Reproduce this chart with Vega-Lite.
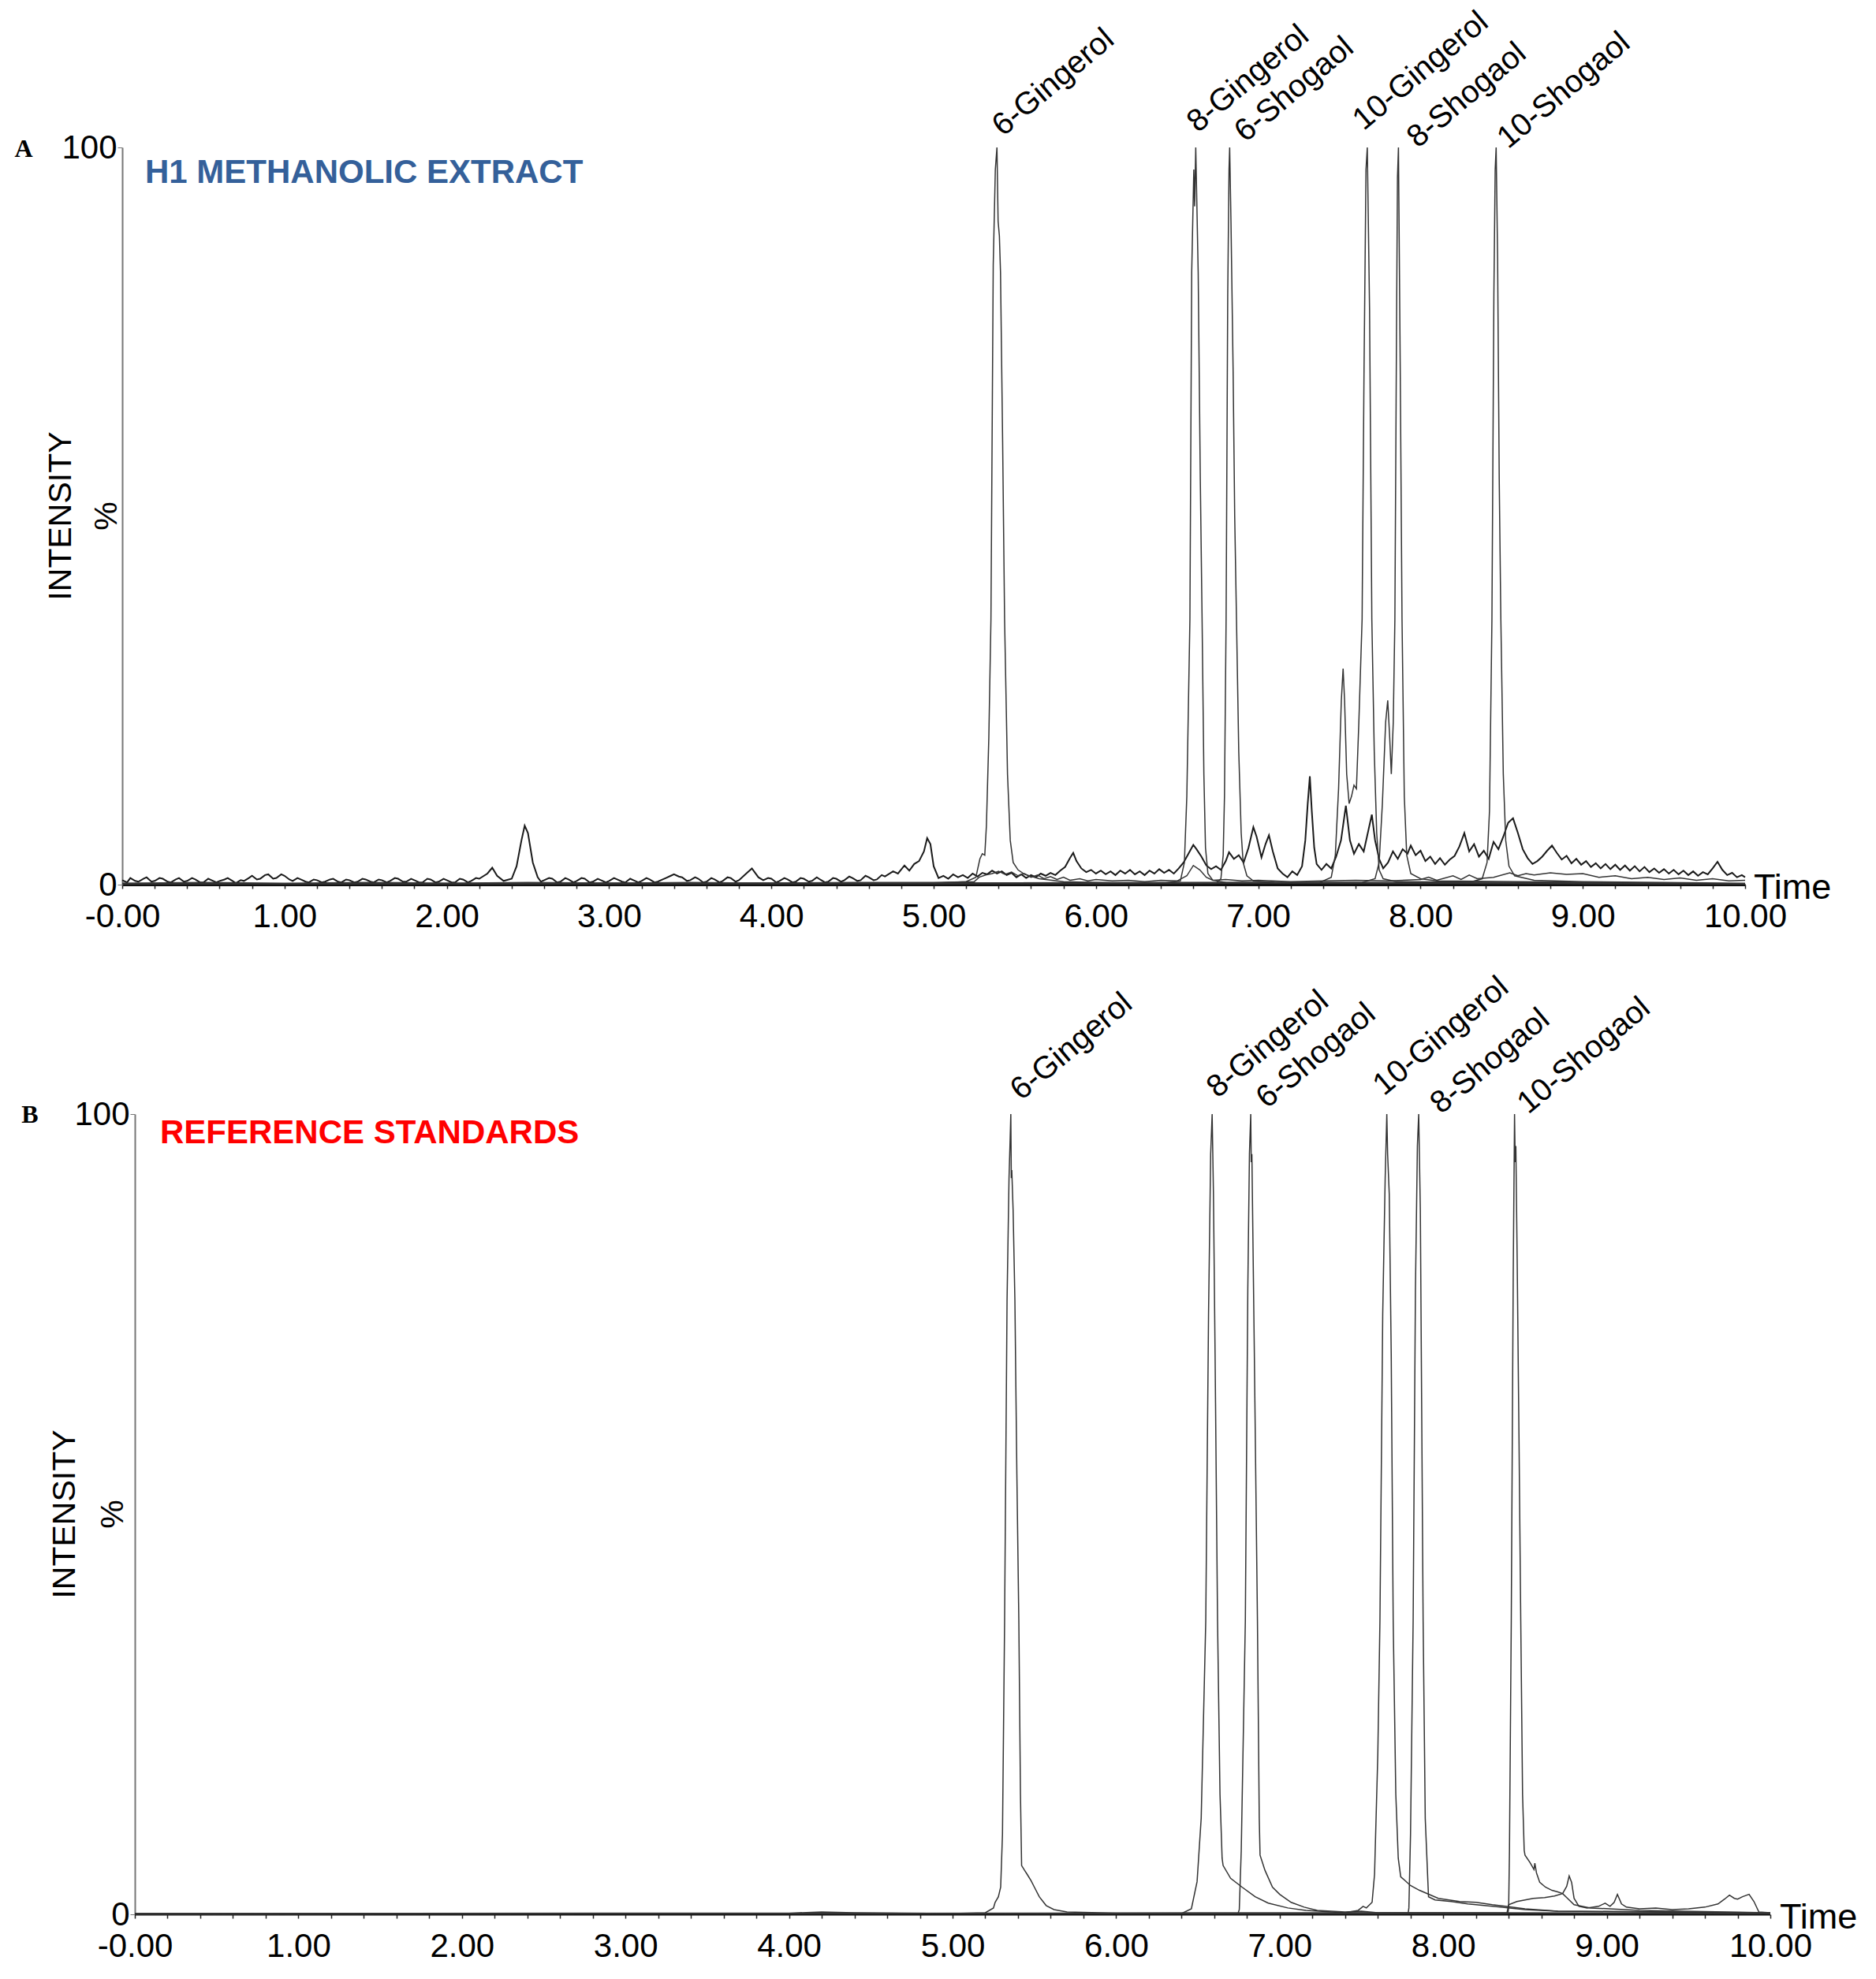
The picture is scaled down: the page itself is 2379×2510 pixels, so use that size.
{
  "$schema": "https://vega.github.io/schema/vega-lite/v6.json",
  "background": "white",
  "padding": {"left": 18, "top": 7, "right": 10, "bottom": 10},
  "spacing": 48,
  "config": {"view": {"stroke": null}, "font": "Liberation Sans", "axis": {"grid": false}},
  "datasets": {
    "An": [
      {"s":"n1","t":0,"v":0.6},{"s":"n1","t":0.03,"v":0.3},{"s":"n1","t":0.05,"v":0.9},{"s":"n1","t":0.08,"v":0.5},{"s":"n1","t":0.1,"v":0.4},{"s":"n1","t":0.13,"v":0.8},{"s":"n1","t":0.15,"v":1.0},{"s":"n1","t":0.18,"v":0.4},{"s":"n1","t":0.2,"v":0.5},{"s":"n1","t":0.23,"v":0.9},{"s":"n1","t":0.25,"v":0.8},{"s":"n1","t":0.28,"v":0.4},{"s":"n1","t":0.3,"v":0.3},{"s":"n1","t":0.33,"v":0.7},{"s":"n1","t":0.35,"v":0.9},{"s":"n1","t":0.38,"v":0.4},{"s":"n1","t":0.4,"v":0.5},{"s":"n1","t":0.43,"v":0.9},{"s":"n1","t":0.45,"v":0.7},{"s":"n1","t":0.48,"v":0.3},{"s":"n1","t":0.5,"v":0.3},{"s":"n1","t":0.53,"v":0.8},{"s":"n1","t":0.55,"v":0.6},{"s":"n1","t":0.58,"v":0.3},{"s":"n1","t":0.6,"v":0.5},{"s":"n1","t":0.63,"v":0.7},{"s":"n1","t":0.65,"v":0.9},{"s":"n1","t":0.68,"v":0.5},{"s":"n1","t":0.7,"v":0.2},{"s":"n1","t":0.73,"v":0.6},{"s":"n1","t":0.75,"v":0.5},{"s":"n1","t":0.78,"v":0.9},{"s":"n1","t":0.8,"v":1.2},{"s":"n1","t":0.83,"v":0.7},{"s":"n1","t":0.85,"v":0.8},{"s":"n1","t":0.88,"v":1.3},{"s":"n1","t":0.9,"v":1.4},{"s":"n1","t":0.93,"v":0.8},{"s":"n1","t":0.95,"v":0.9},{"s":"n1","t":0.98,"v":1.4},{"s":"n1","t":1.0,"v":1.2},{"s":"n1","t":1.03,"v":0.7},{"s":"n1","t":1.05,"v":0.5},{"s":"n1","t":1.08,"v":0.9},{"s":"n1","t":1.1,"v":0.7},{"s":"n1","t":1.13,"v":0.4},{"s":"n1","t":1.15,"v":0.3},{"s":"n1","t":1.18,"v":0.7},{"s":"n1","t":1.2,"v":0.6},{"s":"n1","t":1.23,"v":0.3},{"s":"n1","t":1.25,"v":0.4},{"s":"n1","t":1.28,"v":0.7},{"s":"n1","t":1.3,"v":0.8},{"s":"n1","t":1.33,"v":0.4},{"s":"n1","t":1.35,"v":0.3},{"s":"n1","t":1.38,"v":0.7},{"s":"n1","t":1.4,"v":0.6},{"s":"n1","t":1.43,"v":0.3},{"s":"n1","t":1.45,"v":0.4},{"s":"n1","t":1.48,"v":0.8},{"s":"n1","t":1.5,"v":0.7},{"s":"n1","t":1.53,"v":0.4},{"s":"n1","t":1.55,"v":0.3},{"s":"n1","t":1.58,"v":0.7},{"s":"n1","t":1.6,"v":0.6},{"s":"n1","t":1.63,"v":0.3},{"s":"n1","t":1.65,"v":0.5},{"s":"n1","t":1.68,"v":0.9},{"s":"n1","t":1.7,"v":0.8},{"s":"n1","t":1.73,"v":0.4},{"s":"n1","t":1.75,"v":0.4},{"s":"n1","t":1.78,"v":0.8},{"s":"n1","t":1.8,"v":0.6},{"s":"n1","t":1.83,"v":0.3},{"s":"n1","t":1.85,"v":0.3},{"s":"n1","t":1.88,"v":0.8},{"s":"n1","t":1.9,"v":0.7},{"s":"n1","t":1.93,"v":0.3},{"s":"n1","t":1.95,"v":0.4},{"s":"n1","t":1.98,"v":0.8},{"s":"n1","t":2.0,"v":0.6},{"s":"n1","t":2.03,"v":0.3},{"s":"n1","t":2.05,"v":0.3},{"s":"n1","t":2.08,"v":0.8},{"s":"n1","t":2.1,"v":0.7},{"s":"n1","t":2.13,"v":0.3},{"s":"n1","t":2.15,"v":0.5},{"s":"n1","t":2.18,"v":0.9},{"s":"n1","t":2.2,"v":0.8},{"s":"n1","t":2.25,"v":1.5},{"s":"n1","t":2.28,"v":2.3},{"s":"n1","t":2.31,"v":1.2},{"s":"n1","t":2.35,"v":0.5},{"s":"n1","t":2.4,"v":0.8},{"s":"n1","t":2.43,"v":2.5},{"s":"n1","t":2.46,"v":6},{"s":"n1","t":2.48,"v":8},{"s":"n1","t":2.5,"v":7},{"s":"n1","t":2.53,"v":3},{"s":"n1","t":2.56,"v":1.0},{"s":"n1","t":2.58,"v":0.4},{"s":"n1","t":2.6,"v":0.6},{"s":"n1","t":2.63,"v":0.9},{"s":"n1","t":2.65,"v":0.8},{"s":"n1","t":2.68,"v":0.3},{"s":"n1","t":2.7,"v":0.4},{"s":"n1","t":2.73,"v":0.9},{"s":"n1","t":2.75,"v":0.7},{"s":"n1","t":2.78,"v":0.3},{"s":"n1","t":2.8,"v":0.5},{"s":"n1","t":2.83,"v":0.9},{"s":"n1","t":2.85,"v":0.8},{"s":"n1","t":2.88,"v":0.3},{"s":"n1","t":2.9,"v":0.4},{"s":"n1","t":2.93,"v":0.8},{"s":"n1","t":2.95,"v":0.6},{"s":"n1","t":2.98,"v":0.3},{"s":"n1","t":3.0,"v":0.5},{"s":"n1","t":3.03,"v":0.9},{"s":"n1","t":3.05,"v":0.7},{"s":"n1","t":3.08,"v":0.4},{"s":"n1","t":3.1,"v":0.3},{"s":"n1","t":3.13,"v":0.8},{"s":"n1","t":3.15,"v":0.6},{"s":"n1","t":3.18,"v":0.3},{"s":"n1","t":3.2,"v":0.5},{"s":"n1","t":3.23,"v":0.9},{"s":"n1","t":3.25,"v":0.7},{"s":"n1","t":3.28,"v":0.3},{"s":"n1","t":3.3,"v":0.4},{"s":"n1","t":3.33,"v":0.7},{"s":"n1","t":3.35,"v":0.9},{"s":"n1","t":3.38,"v":1.2},{"s":"n1","t":3.4,"v":1.4},{"s":"n1","t":3.43,"v":1.1},{"s":"n1","t":3.45,"v":1.0},{"s":"n1","t":3.48,"v":0.5},{"s":"n1","t":3.5,"v":0.6},{"s":"n1","t":3.53,"v":1.0},{"s":"n1","t":3.55,"v":0.8},{"s":"n1","t":3.58,"v":0.3},{"s":"n1","t":3.6,"v":0.4},{"s":"n1","t":3.63,"v":0.9},{"s":"n1","t":3.65,"v":0.7},{"s":"n1","t":3.68,"v":0.3},{"s":"n1","t":3.7,"v":0.5},{"s":"n1","t":3.73,"v":1.0},{"s":"n1","t":3.75,"v":0.9},{"s":"n1","t":3.78,"v":0.4},{"s":"n1","t":3.8,"v":0.6},{"s":"n1","t":3.85,"v":1.6},{"s":"n1","t":3.88,"v":2.2},{"s":"n1","t":3.92,"v":1.0},{"s":"n1","t":3.95,"v":0.6},{"s":"n1","t":3.98,"v":0.9},{"s":"n1","t":4.0,"v":0.8},{"s":"n1","t":4.03,"v":0.3},{"s":"n1","t":4.05,"v":0.5},{"s":"n1","t":4.08,"v":0.9},{"s":"n1","t":4.1,"v":0.7},{"s":"n1","t":4.13,"v":0.3},{"s":"n1","t":4.15,"v":0.4},{"s":"n1","t":4.18,"v":0.9},{"s":"n1","t":4.2,"v":0.8},{"s":"n1","t":4.23,"v":0.4},{"s":"n1","t":4.25,"v":0.5},{"s":"n1","t":4.28,"v":1.0},{"s":"n1","t":4.3,"v":0.7},{"s":"n1","t":4.33,"v":0.3},{"s":"n1","t":4.35,"v":0.4},{"s":"n1","t":4.38,"v":0.9},{"s":"n1","t":4.4,"v":0.8},{"s":"n1","t":4.43,"v":0.4},{"s":"n1","t":4.45,"v":0.6},{"s":"n1","t":4.48,"v":1.1},{"s":"n1","t":4.5,"v":0.9},{"s":"n1","t":4.53,"v":0.5},{"s":"n1","t":4.55,"v":0.6},{"s":"n1","t":4.58,"v":1.2},{"s":"n1","t":4.6,"v":1.0},{"s":"n1","t":4.63,"v":0.6},{"s":"n1","t":4.65,"v":0.7},{"s":"n1","t":4.68,"v":1.3},{"s":"n1","t":4.7,"v":1.1},{"s":"n1","t":4.75,"v":1.8},{"s":"n1","t":4.78,"v":1.5},{"s":"n1","t":4.82,"v":2.6},{"s":"n1","t":4.85,"v":1.9},{"s":"n1","t":4.88,"v":2.8},{"s":"n1","t":4.91,"v":3.2},{"s":"n1","t":4.94,"v":4.5},{"s":"n1","t":4.96,"v":6.3},{"s":"n1","t":4.98,"v":5.5},{"s":"n1","t":5.0,"v":2.5},{"s":"n1","t":5.03,"v":0.9},{"s":"n1","t":5.06,"v":1.2},{"s":"n1","t":5.09,"v":0.8},{"s":"n1","t":5.12,"v":1.4},{"s":"n1","t":5.15,"v":1.0},{"s":"n1","t":5.18,"v":1.3},{"s":"n1","t":5.21,"v":0.9},{"s":"n1","t":5.24,"v":1.5},{"s":"n1","t":5.27,"v":1.1},{"s":"n1","t":5.3,"v":1.6},{"s":"n1","t":5.33,"v":1.4},{"s":"n1","t":5.36,"v":1.9},{"s":"n1","t":5.39,"v":1.5},{"s":"n1","t":5.42,"v":1.8},{"s":"n1","t":5.45,"v":1.3},{"s":"n1","t":5.48,"v":1.6},{"s":"n1","t":5.51,"v":1.0},{"s":"n1","t":5.54,"v":1.4},{"s":"n1","t":5.57,"v":0.9},{"s":"n1","t":5.6,"v":1.3},{"s":"n1","t":5.63,"v":1.0},{"s":"n1","t":5.66,"v":1.5},{"s":"n1","t":5.69,"v":1.2},{"s":"n1","t":5.72,"v":1.6},{"s":"n1","t":5.75,"v":1.3},{"s":"n1","t":5.78,"v":1.9},{"s":"n1","t":5.81,"v":2.4},{"s":"n1","t":5.84,"v":3.6},{"s":"n1","t":5.86,"v":4.3},{"s":"n1","t":5.88,"v":3.2},{"s":"n1","t":5.91,"v":2.2},{"s":"n1","t":5.94,"v":1.7},{"s":"n1","t":5.97,"v":2.0},{"s":"n1","t":6.0,"v":1.5},{"s":"n1","t":6.03,"v":1.9},{"s":"n1","t":6.06,"v":1.4},{"s":"n1","t":6.09,"v":1.8},{"s":"n1","t":6.12,"v":1.3},{"s":"n1","t":6.15,"v":1.9},{"s":"n1","t":6.18,"v":1.5},{"s":"n1","t":6.21,"v":2.0},{"s":"n1","t":6.24,"v":1.4},{"s":"n1","t":6.27,"v":1.8},{"s":"n1","t":6.3,"v":1.3},{"s":"n1","t":6.33,"v":1.9},{"s":"n1","t":6.36,"v":1.5},{"s":"n1","t":6.39,"v":2.1},{"s":"n1","t":6.42,"v":1.6},{"s":"n1","t":6.45,"v":2.0},{"s":"n1","t":6.48,"v":1.5},{"s":"n1","t":6.51,"v":2.2},{"s":"n1","t":6.54,"v":3.0},{"s":"n1","t":6.57,"v":4.2},{"s":"n1","t":6.6,"v":5.4},{"s":"n1","t":6.62,"v":4.8},{"s":"n1","t":6.65,"v":3.8},{"s":"n1","t":6.68,"v":2.6},{"s":"n1","t":6.71,"v":2.1},{"s":"n1","t":6.74,"v":2.5},{"s":"n1","t":6.77,"v":2.0},{"s":"n1","t":6.8,"v":3.2},{"s":"n1","t":6.82,"v":4.4},{"s":"n1","t":6.85,"v":3.5},{"s":"n1","t":6.88,"v":4.0},{"s":"n1","t":6.91,"v":3.0},{"s":"n1","t":6.94,"v":5.0},{"s":"n1","t":6.97,"v":7.8},{"s":"n1","t":6.99,"v":6.5},{"s":"n1","t":7.02,"v":3.7},{"s":"n1","t":7.045,"v":5.5},{"s":"n1","t":7.066,"v":6.7},{"s":"n1","t":7.09,"v":4.5},{"s":"n1","t":7.12,"v":2.2},{"s":"n1","t":7.15,"v":1.5},{"s":"n1","t":7.18,"v":1.0},{"s":"n1","t":7.21,"v":1.8},{"s":"n1","t":7.24,"v":1.3},{"s":"n1","t":7.27,"v":2.5},{"s":"n1","t":7.29,"v":6},{"s":"n1","t":7.305,"v":11},{"s":"n1","t":7.318,"v":14.7},{"s":"n1","t":7.33,"v":10},{"s":"n1","t":7.345,"v":5},{"s":"n1","t":7.36,"v":2.8},{"s":"n1","t":7.39,"v":2.0},{"s":"n1","t":7.42,"v":2.8},{"s":"n1","t":7.45,"v":2.2},{"s":"n1","t":7.48,"v":3.8},{"s":"n1","t":7.51,"v":6},{"s":"n1","t":7.54,"v":10.7},{"s":"n1","t":7.565,"v":6},{"s":"n1","t":7.59,"v":4.2},{"s":"n1","t":7.62,"v":5.5},{"s":"n1","t":7.65,"v":4.5},{"s":"n1","t":7.68,"v":7.5},{"s":"n1","t":7.7,"v":9.5},{"s":"n1","t":7.72,"v":6},{"s":"n1","t":7.745,"v":3.5},{"s":"n1","t":7.77,"v":2.2},{"s":"n1","t":7.8,"v":3.0},{"s":"n1","t":7.83,"v":4.5},{"s":"n1","t":7.86,"v":3.5},{"s":"n1","t":7.89,"v":4.8},{"s":"n1","t":7.92,"v":4.2},{"s":"n1","t":7.94,"v":5.3},{"s":"n1","t":7.97,"v":4.0},{"s":"n1","t":8.0,"v":4.6},{"s":"n1","t":8.03,"v":3.2},{"s":"n1","t":8.06,"v":3.8},{"s":"n1","t":8.09,"v":2.8},{"s":"n1","t":8.12,"v":3.6},{"s":"n1","t":8.15,"v":2.7},{"s":"n1","t":8.18,"v":3.4},{"s":"n1","t":8.21,"v":3.9},{"s":"n1","t":8.24,"v":5.2},{"s":"n1","t":8.27,"v":7.0},{"s":"n1","t":8.3,"v":4.5},{"s":"n1","t":8.33,"v":5.5},{"s":"n1","t":8.36,"v":3.8},{"s":"n1","t":8.39,"v":4.6},{"s":"n1","t":8.42,"v":3.5},{"s":"n1","t":8.45,"v":5.8},{"s":"n1","t":8.48,"v":4.8},{"s":"n1","t":8.51,"v":6.5},{"s":"n1","t":8.54,"v":8.4},{"s":"n1","t":8.57,"v":9.0},{"s":"n1","t":8.6,"v":7.0},{"s":"n1","t":8.63,"v":4.8},{"s":"n1","t":8.66,"v":3.6},{"s":"n1","t":8.69,"v":2.8},{"s":"n1","t":8.72,"v":3.2},{"s":"n1","t":8.75,"v":3.8},{"s":"n1","t":8.78,"v":4.6},{"s":"n1","t":8.81,"v":5.3},{"s":"n1","t":8.84,"v":4.3},{"s":"n1","t":8.87,"v":3.4},{"s":"n1","t":8.9,"v":3.9},{"s":"n1","t":8.93,"v":2.9},{"s":"n1","t":8.96,"v":3.5},{"s":"n1","t":8.99,"v":2.7},{"s":"n1","t":9.02,"v":3.2},{"s":"n1","t":9.05,"v":2.4},{"s":"n1","t":9.08,"v":2.9},{"s":"n1","t":9.11,"v":2.2},{"s":"n1","t":9.14,"v":2.8},{"s":"n1","t":9.17,"v":2.1},{"s":"n1","t":9.2,"v":2.7},{"s":"n1","t":9.23,"v":2.0},{"s":"n1","t":9.26,"v":2.6},{"s":"n1","t":9.29,"v":1.9},{"s":"n1","t":9.32,"v":2.5},{"s":"n1","t":9.35,"v":1.8},{"s":"n1","t":9.38,"v":2.4},{"s":"n1","t":9.41,"v":1.7},{"s":"n1","t":9.44,"v":2.2},{"s":"n1","t":9.47,"v":1.6},{"s":"n1","t":9.5,"v":2.1},{"s":"n1","t":9.53,"v":1.5},{"s":"n1","t":9.56,"v":2.0},{"s":"n1","t":9.59,"v":1.4},{"s":"n1","t":9.62,"v":1.9},{"s":"n1","t":9.65,"v":1.3},{"s":"n1","t":9.68,"v":1.8},{"s":"n1","t":9.71,"v":1.2},{"s":"n1","t":9.74,"v":1.7},{"s":"n1","t":9.77,"v":1.4},{"s":"n1","t":9.8,"v":2.2},{"s":"n1","t":9.83,"v":3.1},{"s":"n1","t":9.86,"v":2.0},{"s":"n1","t":9.89,"v":1.3},{"s":"n1","t":9.92,"v":1.6},{"s":"n1","t":9.95,"v":1.0},{"s":"n1","t":9.98,"v":1.3},{"s":"n1","t":10.0,"v":1.0}
    ],
    "Ap": [
      {"s":"p1","t":0,"v":0.15},{"s":"p1","t":1,"v":0.1},{"s":"p1","t":2,"v":0.15},{"s":"p1","t":3,"v":0.1},{"s":"p1","t":4,"v":0.15},{"s":"p1","t":5,"v":0.2},{"s":"p1","t":5.2,"v":0.4},{"s":"p1","t":5.26,"v":1.0},{"s":"p1","t":5.285,"v":3.5},{"s":"p1","t":5.3,"v":4.2},{"s":"p1","t":5.315,"v":4.0},{"s":"p1","t":5.325,"v":8},{"s":"p1","t":5.34,"v":20},{"s":"p1","t":5.353,"v":36},{"s":"p1","t":5.367,"v":84},{"s":"p1","t":5.38,"v":97},{"s":"p1","t":5.39,"v":100},{"s":"p1","t":5.397,"v":90},{"s":"p1","t":5.405,"v":88},{"s":"p1","t":5.412,"v":83},{"s":"p1","t":5.425,"v":60},{"s":"p1","t":5.437,"v":36},{"s":"p1","t":5.455,"v":15},{"s":"p1","t":5.472,"v":6},{"s":"p1","t":5.49,"v":3},{"s":"p1","t":5.52,"v":2},{"s":"p1","t":5.56,"v":1.4},{"s":"p1","t":5.65,"v":0.8},{"s":"p1","t":5.8,"v":0.4},{"s":"p1","t":6.2,"v":0.2},{"s":"p1","t":10,"v":0.1},
      {"s":"p2","t":0,"v":0.1},{"s":"p2","t":6.4,"v":0.15},{"s":"p2","t":6.52,"v":0.5},{"s":"p2","t":6.545,"v":3},{"s":"p2","t":6.56,"v":12},{"s":"p2","t":6.579,"v":36},{"s":"p2","t":6.59,"v":83},{"s":"p2","t":6.603,"v":97},{"s":"p2","t":6.608,"v":92},{"s":"p2","t":6.615,"v":100},{"s":"p2","t":6.63,"v":83},{"s":"p2","t":6.643,"v":55},{"s":"p2","t":6.654,"v":36},{"s":"p2","t":6.665,"v":15},{"s":"p2","t":6.675,"v":5},{"s":"p2","t":6.69,"v":1.5},{"s":"p2","t":6.72,"v":0.6},{"s":"p2","t":6.8,"v":0.3},{"s":"p2","t":10,"v":0.1},
      {"s":"p3","t":0,"v":0.1},{"s":"p3","t":6.74,"v":0.15},{"s":"p3","t":6.77,"v":0.8},{"s":"p3","t":6.784,"v":4},{"s":"p3","t":6.792,"v":12},{"s":"p3","t":6.802,"v":36},{"s":"p3","t":6.812,"v":80},{"s":"p3","t":6.82,"v":97},{"s":"p3","t":6.824,"v":100},{"s":"p3","t":6.832,"v":90},{"s":"p3","t":6.845,"v":70},{"s":"p3","t":6.855,"v":50},{"s":"p3","t":6.866,"v":36},{"s":"p3","t":6.88,"v":18},{"s":"p3","t":6.895,"v":7},{"s":"p3","t":6.907,"v":3},{"s":"p3","t":6.93,"v":1.2},{"s":"p3","t":6.97,"v":0.5},{"s":"p3","t":7.1,"v":0.3},{"s":"p3","t":10,"v":0.1},
      {"s":"p4","t":0,"v":0.1},{"s":"p4","t":7.38,"v":0.3},{"s":"p4","t":7.45,"v":1.0},{"s":"p4","t":7.475,"v":4},{"s":"p4","t":7.495,"v":13},{"s":"p4","t":7.512,"v":25},{"s":"p4","t":7.523,"v":29.3},{"s":"p4","t":7.532,"v":25},{"s":"p4","t":7.545,"v":15},{"s":"p4","t":7.56,"v":11},{"s":"p4","t":7.575,"v":12},{"s":"p4","t":7.59,"v":13.5},{"s":"p4","t":7.605,"v":13},{"s":"p4","t":7.62,"v":22},{"s":"p4","t":7.64,"v":36},{"s":"p4","t":7.652,"v":70},{"s":"p4","t":7.664,"v":97},{"s":"p4","t":7.672,"v":100},{"s":"p4","t":7.686,"v":78},{"s":"p4","t":7.7,"v":36},{"s":"p4","t":7.715,"v":18},{"s":"p4","t":7.73,"v":7},{"s":"p4","t":7.745,"v":2},{"s":"p4","t":7.77,"v":0.8},{"s":"p4","t":7.85,"v":0.4},{"s":"p4","t":10,"v":0.1},
      {"s":"p5","t":0,"v":0.1},{"s":"p5","t":7.64,"v":0.3},{"s":"p5","t":7.72,"v":0.8},{"s":"p5","t":7.745,"v":3},{"s":"p5","t":7.765,"v":11},{"s":"p5","t":7.785,"v":22},{"s":"p5","t":7.798,"v":25},{"s":"p5","t":7.81,"v":20},{"s":"p5","t":7.82,"v":15},{"s":"p5","t":7.832,"v":22},{"s":"p5","t":7.842,"v":36},{"s":"p5","t":7.852,"v":75},{"s":"p5","t":7.858,"v":96},{"s":"p5","t":7.864,"v":100},{"s":"p5","t":7.875,"v":70},{"s":"p5","t":7.886,"v":36},{"s":"p5","t":7.9,"v":12},{"s":"p5","t":7.915,"v":4},{"s":"p5","t":7.94,"v":1.5},{"s":"p5","t":8.0,"v":0.8},{"s":"p5","t":8.1,"v":0.5},{"s":"p5","t":10,"v":0.1},
      {"s":"p6","t":0,"v":0.1},{"s":"p6","t":8.3,"v":0.3},{"s":"p6","t":8.38,"v":0.8},{"s":"p6","t":8.41,"v":3},{"s":"p6","t":8.425,"v":10},{"s":"p6","t":8.44,"v":36},{"s":"p6","t":8.452,"v":80},{"s":"p6","t":8.46,"v":97},{"s":"p6","t":8.466,"v":100},{"s":"p6","t":8.475,"v":85},{"s":"p6","t":8.485,"v":55},{"s":"p6","t":8.495,"v":36},{"s":"p6","t":8.51,"v":15},{"s":"p6","t":8.525,"v":6},{"s":"p6","t":8.545,"v":2.5},{"s":"p6","t":8.58,"v":1.2},{"s":"p6","t":8.7,"v":0.6},{"s":"p6","t":9,"v":0.4},{"s":"p6","t":10,"v":0.2},
      {"s":"n2","t":0,"v":0.2},{"s":"n2","t":0.5,"v":0.3},{"s":"n2","t":1,"v":0.2},{"s":"n2","t":1.5,"v":0.3},{"s":"n2","t":2,"v":0.2},{"s":"n2","t":2.5,"v":0.3},{"s":"n2","t":3,"v":0.2},{"s":"n2","t":3.5,"v":0.3},{"s":"n2","t":4,"v":0.2},{"s":"n2","t":4.5,"v":0.3},{"s":"n2","t":5.0,"v":0.3},{"s":"n2","t":5.25,"v":0.4},{"s":"n2","t":5.28,"v":1.0},{"s":"n2","t":5.32,"v":1.3},{"s":"n2","t":5.36,"v":1.5},{"s":"n2","t":5.4,"v":1.8},{"s":"n2","t":5.44,"v":1.4},{"s":"n2","t":5.48,"v":1.7},{"s":"n2","t":5.52,"v":1.2},{"s":"n2","t":5.56,"v":1.5},{"s":"n2","t":5.6,"v":1.0},{"s":"n2","t":5.64,"v":1.3},{"s":"n2","t":5.68,"v":0.8},{"s":"n2","t":5.72,"v":1.1},{"s":"n2","t":5.76,"v":0.7},{"s":"n2","t":5.8,"v":1.0},{"s":"n2","t":5.84,"v":0.6},{"s":"n2","t":5.9,"v":0.8},{"s":"n2","t":5.95,"v":0.5},{"s":"n2","t":6.0,"v":0.7},{"s":"n2","t":6.1,"v":0.5},{"s":"n2","t":6.2,"v":0.6},{"s":"n2","t":6.3,"v":0.4},{"s":"n2","t":6.4,"v":0.6},{"s":"n2","t":6.5,"v":0.5},{"s":"n2","t":6.56,"v":1.2},{"s":"n2","t":6.6,"v":2.6},{"s":"n2","t":6.64,"v":2.0},{"s":"n2","t":6.68,"v":1.0},{"s":"n2","t":6.72,"v":0.6},{"s":"n2","t":6.8,"v":0.7},{"s":"n2","t":6.9,"v":0.5},{"s":"n2","t":7.0,"v":0.6},{"s":"n2","t":7.2,"v":0.4},{"s":"n2","t":7.4,"v":0.5},{"s":"n2","t":7.6,"v":0.6},{"s":"n2","t":7.8,"v":0.5},{"s":"n2","t":8.0,"v":0.7},{"s":"n2","t":8.05,"v":1.0},{"s":"n2","t":8.1,"v":0.6},{"s":"n2","t":8.2,"v":1.2},{"s":"n2","t":8.25,"v":0.7},{"s":"n2","t":8.3,"v":1.3},{"s":"n2","t":8.35,"v":0.8},{"s":"n2","t":8.45,"v":1.0},{"s":"n2","t":8.55,"v":1.6},{"s":"n2","t":8.6,"v":1.2},{"s":"n2","t":8.65,"v":1.5},{"s":"n2","t":8.7,"v":1.3},{"s":"n2","t":8.8,"v":1.6},{"s":"n2","t":8.9,"v":1.4},{"s":"n2","t":9.0,"v":1.5},{"s":"n2","t":9.1,"v":1.0},{"s":"n2","t":9.2,"v":1.2},{"s":"n2","t":9.3,"v":0.8},{"s":"n2","t":9.4,"v":1.0},{"s":"n2","t":9.5,"v":0.7},{"s":"n2","t":9.6,"v":0.9},{"s":"n2","t":9.7,"v":0.6},{"s":"n2","t":9.8,"v":0.8},{"s":"n2","t":9.9,"v":0.5},{"s":"n2","t":10,"v":0.6}
    ],
    "Bp": [
      {"s":"q1","t":0,"v":0.05},{"s":"q1","t":4.0,"v":0.1},{"s":"q1","t":4.4,"v":0.15},{"s":"q1","t":5.0,"v":0.1},{"s":"q1","t":5.2,"v":0.2},{"s":"q1","t":5.25,"v":0.8},{"s":"q1","t":5.26,"v":1.5},{"s":"q1","t":5.28,"v":2.2},{"s":"q1","t":5.294,"v":3.4},{"s":"q1","t":5.305,"v":10},{"s":"q1","t":5.318,"v":36.7},{"s":"q1","t":5.333,"v":76.7},{"s":"q1","t":5.345,"v":92},{"s":"q1","t":5.352,"v":97},{"s":"q1","t":5.356,"v":100},{"s":"q1","t":5.359,"v":92},{"s":"q1","t":5.362,"v":93},{"s":"q1","t":5.37,"v":88},{"s":"q1","t":5.381,"v":76.7},{"s":"q1","t":5.393,"v":55},{"s":"q1","t":5.405,"v":36.7},{"s":"q1","t":5.415,"v":15},{"s":"q1","t":5.422,"v":6.1},{"s":"q1","t":5.44,"v":5.5},{"s":"q1","t":5.456,"v":5.0},{"s":"q1","t":5.48,"v":4.2},{"s":"q1","t":5.5,"v":3.4},{"s":"q1","t":5.53,"v":2.2},{"s":"q1","t":5.572,"v":1.1},{"s":"q1","t":5.62,"v":0.6},{"s":"q1","t":5.7,"v":0.3},{"s":"q1","t":6.0,"v":0.15},{"s":"q1","t":10,"v":0.1},
      {"s":"q2","t":0,"v":0.05},{"s":"q2","t":6.4,"v":0.1},{"s":"q2","t":6.46,"v":0.7},{"s":"q2","t":6.495,"v":4.1},{"s":"q2","t":6.52,"v":12},{"s":"q2","t":6.548,"v":36.7},{"s":"q2","t":6.565,"v":75},{"s":"q2","t":6.578,"v":95},{"s":"q2","t":6.587,"v":100},{"s":"q2","t":6.595,"v":90},{"s":"q2","t":6.605,"v":70},{"s":"q2","t":6.62,"v":36.7},{"s":"q2","t":6.635,"v":15},{"s":"q2","t":6.648,"v":7},{"s":"q2","t":6.654,"v":6.1},{"s":"q2","t":6.7,"v":4.5},{"s":"q2","t":6.77,"v":3.4},{"s":"q2","t":6.85,"v":2.2},{"s":"q2","t":6.93,"v":1.4},{"s":"q2","t":7.05,"v":0.8},{"s":"q2","t":7.16,"v":0.5},{"s":"q2","t":7.4,"v":0.2},{"s":"q2","t":10,"v":0.1},
      {"s":"q3","t":0,"v":0.05},{"s":"q3","t":6.745,"v":0.1},{"s":"q3","t":6.753,"v":0.6},{"s":"q3","t":6.765,"v":8},{"s":"q3","t":6.79,"v":36.7},{"s":"q3","t":6.805,"v":78},{"s":"q3","t":6.815,"v":95},{"s":"q3","t":6.823,"v":100},{"s":"q3","t":6.826,"v":94},{"s":"q3","t":6.83,"v":95},{"s":"q3","t":6.845,"v":70},{"s":"q3","t":6.864,"v":36.7},{"s":"q3","t":6.875,"v":12},{"s":"q3","t":6.88,"v":7.4},{"s":"q3","t":6.91,"v":5.5},{"s":"q3","t":6.956,"v":3.4},{"s":"q3","t":7.0,"v":2.5},{"s":"q3","t":7.07,"v":1.5},{"s":"q3","t":7.15,"v":0.9},{"s":"q3","t":7.23,"v":0.5},{"s":"q3","t":7.4,"v":0.3},{"s":"q3","t":7.5,"v":0.4},{"s":"q3","t":7.6,"v":0.2},{"s":"q3","t":10,"v":0.1},
      {"s":"q4","t":0,"v":0.05},{"s":"q4","t":7.4,"v":0.2},{"s":"q4","t":7.48,"v":0.5},{"s":"q4","t":7.51,"v":1.0},{"s":"q4","t":7.53,"v":0.8},{"s":"q4","t":7.55,"v":1.2},{"s":"q4","t":7.565,"v":1.5},{"s":"q4","t":7.58,"v":5},{"s":"q4","t":7.6,"v":20},{"s":"q4","t":7.613,"v":36.7},{"s":"q4","t":7.63,"v":75},{"s":"q4","t":7.645,"v":92},{"s":"q4","t":7.655,"v":100},{"s":"q4","t":7.66,"v":95},{"s":"q4","t":7.67,"v":90},{"s":"q4","t":7.682,"v":70},{"s":"q4","t":7.694,"v":36.7},{"s":"q4","t":7.71,"v":15},{"s":"q4","t":7.725,"v":7},{"s":"q4","t":7.74,"v":4.7},{"s":"q4","t":7.8,"v":3.6},{"s":"q4","t":7.855,"v":3.0},{"s":"q4","t":7.97,"v":2.0},{"s":"q4","t":8.1,"v":1.6},{"s":"q4","t":8.2,"v":1.5},{"s":"q4","t":8.3,"v":1.2},{"s":"q4","t":8.38,"v":1.0},{"s":"q4","t":8.5,"v":0.7},{"s":"q4","t":8.7,"v":0.4},{"s":"q4","t":10,"v":0.2},
      {"s":"q5","t":0,"v":0.05},{"s":"q5","t":7.785,"v":0.1},{"s":"q5","t":7.79,"v":0.8},{"s":"q5","t":7.8,"v":10},{"s":"q5","t":7.816,"v":36.7},{"s":"q5","t":7.83,"v":78},{"s":"q5","t":7.842,"v":96},{"s":"q5","t":7.85,"v":100},{"s":"q5","t":7.86,"v":88},{"s":"q5","t":7.877,"v":36.7},{"s":"q5","t":7.89,"v":12},{"s":"q5","t":7.91,"v":2.2},{"s":"q5","t":7.95,"v":1.8},{"s":"q5","t":8.05,"v":1.6},{"s":"q5","t":8.15,"v":1.3},{"s":"q5","t":8.25,"v":1.1},{"s":"q5","t":8.35,"v":0.9},{"s":"q5","t":8.5,"v":0.6},{"s":"q5","t":8.7,"v":0.4},{"s":"q5","t":10,"v":0.15},
      {"s":"q6","t":0,"v":0.05},{"s":"q6","t":8.395,"v":0.1},{"s":"q6","t":8.4,"v":0.8},{"s":"q6","t":8.405,"v":8},{"s":"q6","t":8.416,"v":36.7},{"s":"q6","t":8.428,"v":80},{"s":"q6","t":8.436,"v":100},{"s":"q6","t":8.44,"v":94},{"s":"q6","t":8.444,"v":96},{"s":"q6","t":8.452,"v":82},{"s":"q6","t":8.463,"v":60},{"s":"q6","t":8.474,"v":36.7},{"s":"q6","t":8.485,"v":15},{"s":"q6","t":8.495,"v":8},{"s":"q6","t":8.5,"v":7.4},{"s":"q6","t":8.53,"v":6.5},{"s":"q6","t":8.555,"v":5.6},{"s":"q6","t":8.56,"v":6.4},{"s":"q6","t":8.57,"v":5.2},{"s":"q6","t":8.59,"v":4.0},{"s":"q6","t":8.625,"v":3.4},{"s":"q6","t":8.665,"v":3.0},{"s":"q6","t":8.7,"v":2.8},{"s":"q6","t":8.73,"v":2.6},{"s":"q6","t":8.76,"v":2.0},{"s":"q6","t":8.8,"v":1.2},{"s":"q6","t":8.9,"v":0.8},{"s":"q6","t":9.2,"v":0.5},{"s":"q6","t":10,"v":0.2},
      {"s":"q7","t":0,"v":0.1},{"s":"q7","t":4.0,"v":0.15},{"s":"q7","t":4.2,"v":0.3},{"s":"q7","t":4.4,"v":0.2},{"s":"q7","t":5.0,"v":0.1},{"s":"q7","t":8.39,"v":0.2},{"s":"q7","t":8.4,"v":1.2},{"s":"q7","t":8.45,"v":1.6},{"s":"q7","t":8.5,"v":1.8},{"s":"q7","t":8.55,"v":2.0},{"s":"q7","t":8.62,"v":2.1},{"s":"q7","t":8.68,"v":2.3},{"s":"q7","t":8.73,"v":2.6},{"s":"q7","t":8.755,"v":3.5},{"s":"q7","t":8.77,"v":4.8},{"s":"q7","t":8.785,"v":4.0},{"s":"q7","t":8.8,"v":2.0},{"s":"q7","t":8.83,"v":1.0},{"s":"q7","t":8.88,"v":0.8},{"s":"q7","t":8.95,"v":1.0},{"s":"q7","t":8.99,"v":1.4},{"s":"q7","t":9.02,"v":1.0},{"s":"q7","t":9.045,"v":1.5},{"s":"q7","t":9.065,"v":2.5},{"s":"q7","t":9.09,"v":1.3},{"s":"q7","t":9.12,"v":0.9},{"s":"q7","t":9.2,"v":0.7},{"s":"q7","t":9.3,"v":0.8},{"s":"q7","t":9.4,"v":0.6},{"s":"q7","t":9.5,"v":0.7},{"s":"q7","t":9.6,"v":0.9},{"s":"q7","t":9.68,"v":1.3},{"s":"q7","t":9.72,"v":1.9},{"s":"q7","t":9.75,"v":2.4},{"s":"q7","t":9.78,"v":2.0},{"s":"q7","t":9.8,"v":1.9},{"s":"q7","t":9.83,"v":2.2},{"s":"q7","t":9.87,"v":2.5},{"s":"q7","t":9.9,"v":1.6},{"s":"q7","t":9.93,"v":0.3},{"s":"q7","t":10,"v":0.2}
    ],
    "labA": [
      {"name":"6-Gingerol","lt":5.427,"lv":101.4},{"name":"8-Gingerol","lt":6.628,"lv":101.9},{"name":"6-Shogaol","lt":6.92,"lv":100.6},{"name":"10-Gingerol","lt":7.65,"lv":102.2},{"name":"8-Shogaol","lt":7.983,"lv":99.8},{"name":"10-Shogaol","lt":8.54,"lv":99.7}
    ],
    "labB": [
      {"name":"6-Gingerol","lt":5.42,"lv":101.6},{"name":"8-Gingerol","lt":6.62,"lv":101.9},{"name":"6-Shogaol","lt":6.923,"lv":100.6},{"name":"10-Gingerol","lt":7.638,"lv":102.2},{"name":"8-Shogaol","lt":7.987,"lv":99.9},{"name":"10-Shogaol","lt":8.52,"lv":99.9}
    ]
  },
  "vconcat": [
    {
      "width": 2058,
      "height": 935,
      "layer": [
        {
          "data": {"name": "An"},
          "mark": {"type": "line", "color": "#1a1a1a", "strokeWidth": 2},
          "encoding": {
            "x": {"field": "t", "type": "quantitative", "scale": {"domain": [0, 10], "nice": false, "zero": false},
              "axis": {
                "values": [0,0.1,0.2,0.3,0.4,0.5,0.6,0.7,0.8,0.9,1,1.1,1.2,1.3,1.4,1.5,1.6,1.7,1.8,1.9,2,2.1,2.2,2.3,2.4,2.5,2.6,2.7,2.8,2.9,3,3.1,3.2,3.3,3.4,3.5,3.6,3.7,3.8,3.9,4,4.1,4.2,4.3,4.4,4.5,4.6,4.7,4.8,4.9,5,5.1,5.2,5.3,5.4,5.5,5.6,5.7,5.8,5.9,6,6.1,6.2,6.3,6.4,6.5,6.6,6.7,6.8,6.9,7,7.1,7.2,7.3,7.4,7.5,7.6,7.7,7.8,7.9,8,8.1,8.2,8.3,8.4,8.5,8.6,8.7,8.8,8.9,9,9.1,9.2,9.3,9.4,9.5,9.6,9.7,9.8,9.9,10],
                "labelExpr": "abs(datum.value - round(datum.value)) < 0.001 ? (datum.value == 0 ? '-0.00' : format(datum.value, '.2f')) : ''",
                "labelFont": "Liberation Sans", "labelFontSize": 42, "labelColor": "#000", "labelPadding": 15,
                "labelOverlap": false, "labelFlush": false, "labelBound": false,
                "tickSize": 5, "tickColor": "#222", "tickWidth": 1.5,
                "domainColor": "#111", "domainWidth": 3,
                "title": null, "grid": false,
                "encode": {"ticks": {"update": {"y2": {"signal": "abs(datum.value*2 - round(datum.value*2)) < 0.001 ? 10 : 5"}}}}
              }
            },
            "y": {"field": "v", "type": "quantitative", "scale": {"domain": [0, 100], "nice": false},
              "axis": {
                "values": [0, 100], "labelFont": "Liberation Sans", "labelFontSize": 42, "labelColor": "#000", "labelPadding": 1,
                "tickSize": 6, "tickColor": "#777", "domainColor": "#777", "domainWidth": 2, "grid": false,
                "title": ["INTENSITY", "%"], "titleFont": "Liberation Sans", "titleFontSize": 41, "titleFontWeight": "normal", "titleColor": "#000",
                "titleLineHeight": 58, "titleX": -66, "titleY": 467, "titleAngle": -90, "titleAlign": "center", "titleBaseline": "alphabetic"
              }
            },
            "detail": {"field": "s"}
          }
        },
        {
          "data": {"name": "Ap"},
          "mark": {"type": "line", "color": "#333333", "strokeWidth": 1.5},
          "encoding": {
            "x": {"field": "t", "type": "quantitative"},
            "y": {"field": "v", "type": "quantitative"},
            "detail": {"field": "s"}
          }
        },
        {
          "data": {"name": "labA"},
          "mark": {"type": "text", "angle": -40, "align": "left", "baseline": "alphabetic", "fontSize": 40, "font": "Liberation Sans", "color": "#000"},
          "encoding": {
            "x": {"field": "lt", "type": "quantitative"},
            "y": {"field": "lv", "type": "quantitative"},
            "text": {"field": "name"}
          }
        },
        {
          "data": {"values": [{"label": "A"}]},
          "mark": {"type": "text", "font": "Liberation Serif", "fontWeight": "bold", "fontSize": 32, "align": "center", "baseline": "middle", "dx": -125, "dy": 2, "color": "#000"},
          "encoding": {"x": {"datum": 0}, "y": {"datum": 100}, "text": {"field": "label"}}
        },
        {
          "data": {"values": [{"label": "H1 METHANOLIC EXTRACT"}]},
          "mark": {"type": "text", "font": "Liberation Sans", "fontWeight": "bold", "fontSize": 42, "align": "left", "baseline": "middle", "dx": 29, "dy": 32, "color": "#34609A"},
          "encoding": {"x": {"datum": 0}, "y": {"datum": 100}, "text": {"field": "label"}}
        },
        {
          "data": {"values": [{"label": "Time"}]},
          "mark": {"type": "text", "font": "Liberation Sans", "fontSize": 45, "align": "left", "baseline": "middle", "dx": 11, "dy": 4, "color": "#000"},
          "encoding": {"x": {"datum": 10}, "y": {"datum": 0}, "text": {"field": "label"}}
        }
      ]
    },
    {
      "width": 2090,
      "height": 1015,
      "layer": [
        {
          "data": {"values": [{"from": 0, "to": 10, "level": 0}]},
          "mark": {"type": "rule", "color": "#111", "strokeWidth": 3},
          "encoding": {
            "x": {"field": "from", "type": "quantitative", "scale": {"domain": [-0.0772, 10], "nice": false, "zero": false},
              "axis": {
                "values": [0,0.1,0.2,0.3,0.4,0.5,0.6,0.7,0.8,0.9,1,1.1,1.2,1.3,1.4,1.5,1.6,1.7,1.8,1.9,2,2.1,2.2,2.3,2.4,2.5,2.6,2.7,2.8,2.9,3,3.1,3.2,3.3,3.4,3.5,3.6,3.7,3.8,3.9,4,4.1,4.2,4.3,4.4,4.5,4.6,4.7,4.8,4.9,5,5.1,5.2,5.3,5.4,5.5,5.6,5.7,5.8,5.9,6,6.1,6.2,6.3,6.4,6.5,6.6,6.7,6.8,6.9,7,7.1,7.2,7.3,7.4,7.5,7.6,7.7,7.8,7.9,8,8.1,8.2,8.3,8.4,8.5,8.6,8.7,8.8,8.9,9,9.1,9.2,9.3,9.4,9.5,9.6,9.7,9.8,9.9,10],
                "labelExpr": "abs(datum.value - round(datum.value)) < 0.001 ? (datum.value == 0 ? '-0.00' : format(datum.value, '.2f')) : ''",
                "labelFont": "Liberation Sans", "labelFontSize": 42, "labelColor": "#000", "labelPadding": 15,
                "labelOverlap": false, "labelFlush": false, "labelBound": false,
                "tickSize": 5, "tickColor": "#222", "tickWidth": 1.5,
                "domain": false,
                "title": null, "grid": false,
                "encode": {"ticks": {"update": {"y2": {"signal": "abs(datum.value*2 - round(datum.value*2)) < 0.001 ? 10 : 5"}}}}
              }
            },
            "x2": {"field": "to"},
            "y": {"field": "level", "type": "quantitative", "scale": {"domain": [0, 100], "nice": false},
              "axis": {
                "values": [0, 100], "offset": -16, "labelFont": "Liberation Sans", "labelFontSize": 42, "labelColor": "#000", "labelPadding": 1,
                "tickSize": 6, "tickColor": "#777", "domainColor": "#777", "domainWidth": 2, "grid": false,
                "title": ["INTENSITY", "%"], "titleFont": "Liberation Sans", "titleFontSize": 41, "titleFontWeight": "normal", "titleColor": "#000",
                "titleLineHeight": 61, "titleX": -77, "titleY": 507, "titleAngle": -90, "titleAlign": "center", "titleBaseline": "alphabetic"
              }
            }
          }
        },
        {
          "data": {"name": "Bp"},
          "mark": {"type": "line", "color": "#333333", "strokeWidth": 1.5},
          "encoding": {
            "x": {"field": "t", "type": "quantitative"},
            "y": {"field": "v", "type": "quantitative"},
            "detail": {"field": "s"}
          }
        },
        {
          "data": {"name": "labB"},
          "mark": {"type": "text", "angle": -40, "align": "left", "baseline": "alphabetic", "fontSize": 40, "font": "Liberation Sans", "color": "#000"},
          "encoding": {
            "x": {"field": "lt", "type": "quantitative"},
            "y": {"field": "lv", "type": "quantitative"},
            "text": {"field": "name"}
          }
        },
        {
          "data": {"values": [{"label": "B"}]},
          "mark": {"type": "text", "font": "Liberation Serif", "fontWeight": "bold", "fontSize": 32, "align": "center", "baseline": "middle", "dx": -133, "dy": 1, "color": "#000"},
          "encoding": {"x": {"datum": 0}, "y": {"datum": 100}, "text": {"field": "label"}}
        },
        {
          "data": {"values": [{"label": "REFERENCE STANDARDS"}]},
          "mark": {"type": "text", "font": "Liberation Sans", "fontWeight": "bold", "fontSize": 42, "align": "left", "baseline": "middle", "dx": 32, "dy": 24, "color": "#FF0000"},
          "encoding": {"x": {"datum": 0}, "y": {"datum": 100}, "text": {"field": "label"}}
        },
        {
          "data": {"values": [{"label": "Time"}]},
          "mark": {"type": "text", "font": "Liberation Sans", "fontSize": 45, "align": "left", "baseline": "middle", "dx": 12, "dy": 4, "color": "#000"},
          "encoding": {"x": {"datum": 10}, "y": {"datum": 0}, "text": {"field": "label"}}
        }
      ]
    }
  ]
}
